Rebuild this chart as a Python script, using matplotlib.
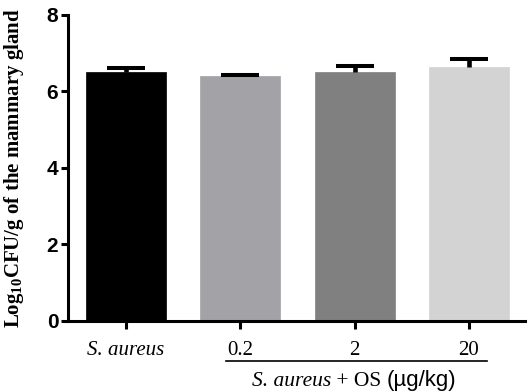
import matplotlib
matplotlib.use("Agg")
import matplotlib.pyplot as plt
from matplotlib.lines import Line2D
import numpy as np

categories = ["S. aureus", "0.2", "2", "20"]
means = [6.52, 6.40, 6.50, 6.65]
errors = [0.08, 0.04, 0.16, 0.19]
colors = ["#000000", "#a3a2a6", "#808080", "#d3d3d3"]
yticks = [0, 2, 4, 6, 8]

plt.rcParams['mathtext.fontset'] = 'custom'
plt.rcParams['mathtext.rm'] = 'Liberation Serif:bold'
plt.rcParams['mathtext.it'] = 'Liberation Serif:bold'
plt.rcParams['mathtext.bf'] = 'Liberation Serif:bold'

fig = plt.figure(figsize=(5.3, 3.92), dpi=100)
ax = fig.add_axes([68/530, 1-320.7/392, (525-68)/530, (320.7-15)/392])

x = np.arange(len(categories))
m = np.array(means)
e = np.array(errors)
ax.bar(x, m, width=0.7, color=colors, edgecolor=colors, linewidth=0.5, zorder=2)
ax.vlines(x, m, m + e, color='black', linewidth=3.3, zorder=3)
ax.hlines(m + e, x - 0.166, x + 0.166, color='black', linewidth=2.9, zorder=3)

ax.set_xlim(-0.505, 3.49)
ax.set_ylim(0, 8)
ax.set_yticks(yticks)
ax.set_yticklabels([str(t) for t in yticks], fontfamily='Liberation Sans', fontweight='bold', fontsize=15)
ax.set_xticks(x)
ax.set_xticklabels([""] * len(x))
for sp in ['top', 'right']:
    ax.spines[sp].set_visible(False)
for sp in ['left', 'bottom']:
    ax.spines[sp].set_linewidth(2.2)
    ax.spines[sp].set_capstyle('projecting')
ax.tick_params(axis='y', width=2.2, length=5, pad=2)
ax.tick_params(axis='x', width=2.2, length=5.5)

# x tick labels
for i, c in enumerate(categories):
    style = 'italic' if i == 0 else 'normal'
    ax.annotate(c, xy=(i, 0), xycoords=('data', 'axes fraction'), xytext=(0, -34),
                textcoords='offset pixels', ha='center', va='baseline',
                fontfamily='Liberation Serif', fontstyle=style, fontsize=15)

# group underline
trans = ax.get_xaxis_transform()
ax.add_line(Line2D([0.874, 3.156], [-0.132, -0.132], transform=trans, color='black',
                   linewidth=1.2, clip_on=False))

# group label
t1 = ax.annotate("S. aureus", xy=(1.103, 0), xycoords=('data', 'axes fraction'), xytext=(0, -65),
                 textcoords='offset pixels', ha='left', va='baseline',
                 fontfamily='Liberation Serif', fontstyle='italic', fontsize=15.5)
t2 = ax.annotate(" + OS ", xy=(1, 0), xycoords=t1, ha='left', va='bottom',
                 fontfamily='Liberation Serif', fontsize=15.5)
t3 = ax.annotate("(µg/kg)", xy=(1, 0), xycoords=t2, ha='left', va='bottom',
                 fontfamily='Liberation Sans', fontsize=16)

fig.text(14/530, 1-168/392, "Log$_{10}$CFU/g of the mammary gland", rotation=90,
         ha='center', va='center', fontfamily='Liberation Serif', fontweight='bold', fontsize=15)

fig.savefig("out.png", dpi=100)
